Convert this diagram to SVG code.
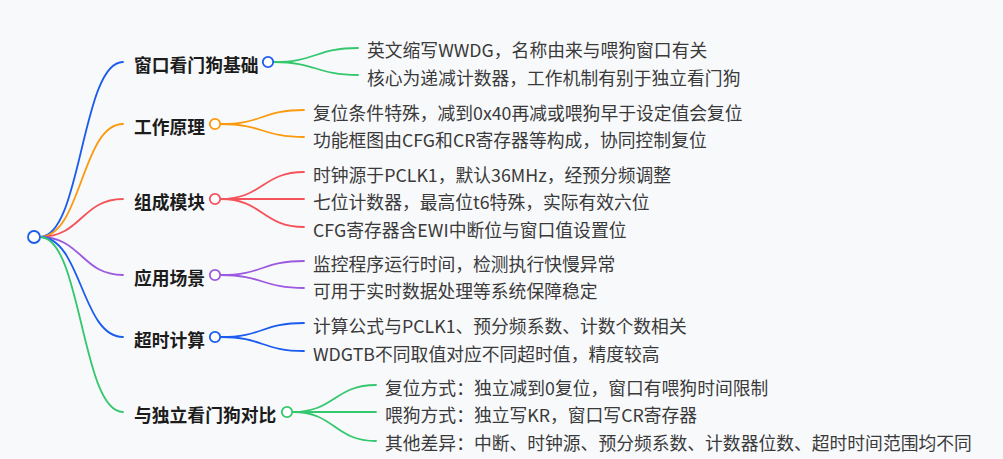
<svg xmlns="http://www.w3.org/2000/svg" width="1003" height="459" viewBox="0 0 1003 459">
<style>
.bg{fill:#f8f9fb}
.lk{fill:none;stroke-width:1.8;stroke-linecap:round}
.b{stroke:#1a5cf0}.o{stroke:#fb9a0e}.r{stroke:#f5535a}.p{stroke:#9b59e0}.g{stroke:#33c86e}
.dot{fill:#fff;stroke-width:1.8}
.t1{font-family:"Noto Sans CJK SC","Noto Sans",sans-serif;font-size:17.8px;font-weight:bold;fill:#1c1c1c;dominant-baseline:central}
.t2{font-family:"Noto Sans CJK SC","Noto Sans",sans-serif;font-size:17.8px;fill:#3a3a3a;dominant-baseline:central}
</style>
<rect class="bg" x="0" y="0" width="1003" height="459"/>
<g id="connectors">
<path class="lk b" d="M40 237 C81.5 237 81.5 62 123 62"/>
<path class="lk o" d="M40 237 C81.5 237 81.5 124 123 124"/>
<path class="lk r" d="M40 237 C81.5 237 81.5 199 123 199"/>
<path class="lk p" d="M40 237 C81.5 237 81.5 275 123 275"/>
<path class="lk b" d="M40 237 C81.5 237 81.5 337 123 337"/>
<path class="lk g" d="M40 237 C81.5 237 81.5 412 123 412"/>
<path class="lk g" d="M274 62 C316 62 316 48 358 48"/>
<path class="lk g" d="M274 62 C316 62 316 75 358 75"/>
<path class="lk o" d="M221 124 C262.5 124 262.5 110 304 110"/>
<path class="lk o" d="M221 124 C262.5 124 262.5 137 304 137"/>
<path class="lk r" d="M221 199 C262.5 199 262.5 172 304 172"/>
<path class="lk r" d="M221 199 L304 199"/>
<path class="lk r" d="M221 199 C262.5 199 262.5 227 304 227"/>
<path class="lk p" d="M221 275 C262.5 275 262.5 261 304 261"/>
<path class="lk p" d="M221 275 C262.5 275 262.5 288 304 288"/>
<path class="lk b" d="M221 337 C262.5 337 262.5 323 304 323"/>
<path class="lk b" d="M221 337 C262.5 337 262.5 351 304 351"/>
<path class="lk g" d="M293 412 C334.5 412 334.5 385 376 385"/>
<path class="lk g" d="M293 412 L376 412"/>
<path class="lk g" d="M293 412 C334.5 412 334.5 441 376 441"/>
</g>
<g id="root"><circle class="dot b" cx="34" cy="237" r="6"/></g>
<g id="n1"><text class="t1" x="134" y="64">窗口看门狗基础</text><circle class="dot b" cx="268" cy="62" r="5.2"/></g>
<g id="n1a"><text class="t2" x="367" y="49">英文缩写WWDG，名称由来与喂狗窗口有关</text></g>
<g id="n1b"><text class="t2" x="367" y="76.5">核心为递减计数器，工作机制有别于独立看门狗</text></g>
<g id="n2"><text class="t1" x="134" y="126">工作原理</text><circle class="dot o" cx="215" cy="124" r="5.2"/></g>
<g id="n2a"><text class="t2" x="313" y="111.5">复位条件特殊，减到0x40再减或喂狗早于设定值会复位</text></g>
<g id="n2b"><text class="t2" x="313" y="138.5">功能框图由CFG和CR寄存器等构成，协同控制复位</text></g>
<g id="n3"><text class="t1" x="134" y="201">组成模块</text><circle class="dot r" cx="215" cy="199" r="5.2"/></g>
<g id="n3a"><text class="t2" x="313" y="173.5">时钟源于PCLK1，默认36MHz，经预分频调整</text></g>
<g id="n3b"><text class="t2" x="313" y="200.5">七位计数器，最高位t6特殊，实际有效六位</text></g>
<g id="n3c"><text class="t2" x="313" y="228.5">CFG寄存器含EWI中断位与窗口值设置位</text></g>
<g id="n4"><text class="t1" x="134" y="277">应用场景</text><circle class="dot p" cx="215" cy="275" r="5.2"/></g>
<g id="n4a"><text class="t2" x="313" y="262.5">监控程序运行时间，检测执行快慢异常</text></g>
<g id="n4b"><text class="t2" x="313" y="289.5">可用于实时数据处理等系统保障稳定</text></g>
<g id="n5"><text class="t1" x="134" y="339">超时计算</text><circle class="dot b" cx="215" cy="337" r="5.2"/></g>
<g id="n5a"><text class="t2" x="313" y="324.5">计算公式与PCLK1、预分频系数、计数个数相关</text></g>
<g id="n5b"><text class="t2" x="313" y="352.5">WDGTB不同取值对应不同超时值，精度较高</text></g>
<g id="n6"><text class="t1" x="134" y="414">与独立看门狗对比</text><circle class="dot g" cx="287" cy="412" r="5.2"/></g>
<g id="n6a"><text class="t2" x="385" y="386.5">复位方式：独立减到0复位，窗口有喂狗时间限制</text></g>
<g id="n6b"><text class="t2" x="385" y="413.5">喂狗方式：独立写KR，窗口写CR寄存器</text></g>
<g id="n6c"><text class="t2" x="385" y="441.5">其他差异：中断、时钟源、预分频系数、计数器位数、超时时间范围均不同</text></g>
</svg>
